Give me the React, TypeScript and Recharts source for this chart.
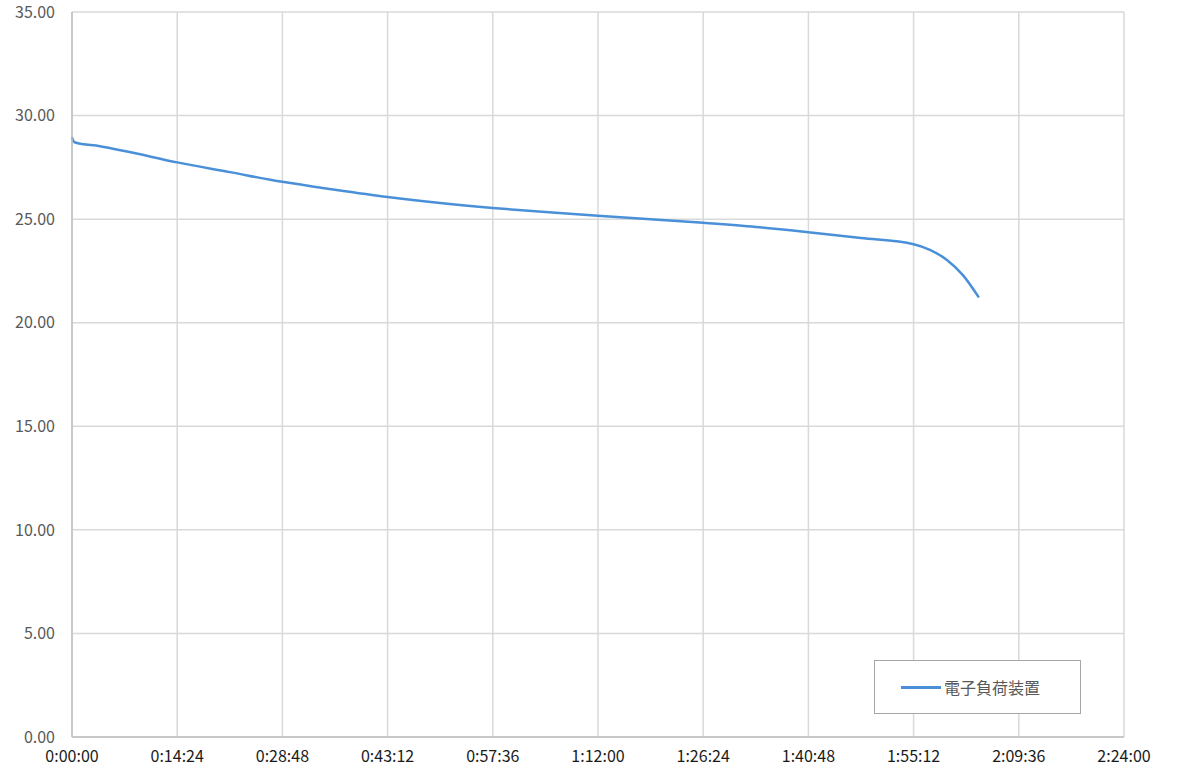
import { LineChart, Line, XAxis, YAxis, CartesianGrid } from 'recharts';

// elapsed seconds
const times = [
  0, 8, 25, 230, 432, 864, 1296, 1728, 2160, 2592, 3024, 3456, 3888, 4320, 4752,
  5184, 5616, 6048, 6480, 6912, 7046, 7186, 7317, 7448,
];
const voltages = [
  28.97, 28.8, 28.7, 28.52, 28.29, 27.74, 27.27, 26.8, 26.42, 26.07, 25.78, 25.54, 25.34,
  25.16, 25.0, 24.82, 24.62, 24.37, 24.09, 23.79, 23.52, 23.03, 22.3, 21.22,
];
const xTicks = [0, 864, 1728, 2592, 3456, 4320, 5184, 6048, 6912, 7776, 8640];
const yTicks = [0, 5, 10, 15, 20, 25, 30, 35];
const seriesName = '電子負荷装置';

const data = times.map((t, i) => ({ t, v: voltages[i] }));

const fmtTime = (s: number) => {
  const h = Math.floor(s / 3600);
  const m = Math.floor((s % 3600) / 60);
  const sec = s % 60;
  return `${h}:${String(m).padStart(2, '0')}:${String(sec).padStart(2, '0')}`;
};

const font = '"Noto Sans CJK JP", sans-serif';

export default function App() {
  return (
    <div style={{ position: 'absolute', left: 0, top: 0, width: 1200, height: 773, background: '#fff' }}>
      <LineChart
        width={1200}
        height={773}
        data={data}
        margin={{ top: 12, right: 76, bottom: 0, left: 8 }}
        style={{ fontFamily: font }}
      >
        <CartesianGrid stroke="#d9d9d9" strokeWidth={1.5} />
        <XAxis
          dataKey="t"
          type="number"
          domain={[0, 8640]}
          ticks={xTicks}
          tickFormatter={fmtTime}
          height={36}
          tickSize={0}
          tickMargin={14}
          stroke="#bfbfbf"
          strokeWidth={1.5}
          tick={{ fill: '#1a1a1a', fontSize: 16 }}
          interval={0}
        />
        <YAxis
          type="number"
          domain={[0, 35]}
          ticks={yTicks}
          tickFormatter={(v: number) => v.toFixed(2)}
          width={64}
          tickSize={0}
          tickMargin={17}
          stroke="#bfbfbf"
          strokeWidth={1.5}
          tick={{ fill: '#595959', fontSize: 16 }}
          interval={0}
        />
        <Line
          dataKey="v"
          name={seriesName}
          type="monotone"
          stroke="#4a90d9"
          strokeWidth={2.5}
          dot={false}
          isAnimationActive={false}
        />
      </LineChart>
      <div
        style={{
          position: 'absolute',
          left: 874,
          top: 660,
          width: 207,
          height: 54,
          boxSizing: 'border-box',
          border: '1px solid #a6a6a6',
          background: '#fff',
          display: 'flex',
          alignItems: 'center',
          paddingLeft: 26,
          fontFamily: font,
          fontSize: 16,
          color: '#595959',
        }}
      >
        <span style={{ display: 'inline-block', width: 40, height: 3, background: '#4a90d9', marginRight: 3 }} />
        {seriesName}
      </div>
    </div>
  );
}
